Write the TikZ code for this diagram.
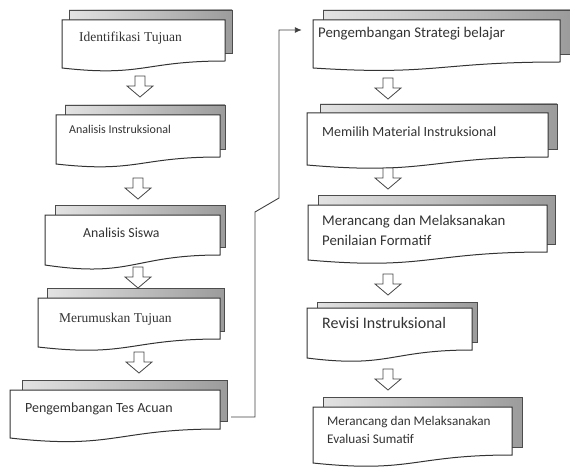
\documentclass[tikz,border=0pt]{standalone}
\usepackage{fontspec}
\setmainfont{Liberation Serif}
\newfontfamily\calib{Carlito}
\usetikzlibrary{arrows.meta,calc}
\tikzset{
  shadowbox/.style={left color=gray!22, right color=gray!78, draw=gray!60!black, line width=0.6pt},
  frontbox/.style={draw=black!80, fill=white, line width=1pt},
  hollow/.style={draw=gray!55!black, fill=white, line width=0.8pt},
  conn/.style={draw=black!75, line width=0.9pt},
  lbl/.style={anchor=base west, inner sep=0pt, text=black!80},
}
% #1 name, #2 x1, #3 yt, #4 x2, #5 y right bottom, #6 y left bottom, #7 bx1, #8 byt, #9 bx2 ; shadow bottom = #5 - 8
\newcommand\docbox[9]{%
  \shade[shadowbox] (#7,#8) rectangle (#9,{#5-8});
  \path[frontbox] (#2,#3) -- (#4,#3) -- (#4,#5)
     .. controls ({(#2+#4)/2},#5) and ({(#2+#4)/2},{#6+1.31*(#6-#5)}) .. (#2,#6) -- cycle;
  \node[inner sep=0pt, minimum width={(#4-#2)*1pt}, minimum height={(#6-#3)*1pt}] (#1) at ({(#2+#4)/2},{(#3+#6)/2}) {};
}
% #1 name, #2 centre x, #3 top y
\newcommand\hollowarrow[3]{%
  \path[hollow] (#2-5,#3) -- (#2+5,#3) -- (#2+5,#3+10) -- (#2+13,#3+10) -- (#2,#3+21)
     -- (#2-13,#3+10) -- (#2-5,#3+10) -- cycle;
  \coordinate (#1) at (#2,#3);
}
\begin{document}
\begin{tikzpicture}[x=1pt,y=-1pt]
\useasboundingbox (0,0) rectangle (570,468);
% left column
\docbox{b1}{62}{20}{225}{61}{68}{69}{10}{232}
\node[lbl, font=\fontsize{13.5}{16}\selectfont] (t1) at (79,42) {Identifikasi Tujuan};
\docbox{b2}{56}{115}{220}{157}{164}{65}{105}{225}
\node[lbl, font=\calib\fontsize{12}{14}\selectfont] (t2) at (69,133) {Analisis Instruksional};
\docbox{b3}{45}{215}{220}{255}{265}{55}{205}{225}
\node[lbl, font=\calib\fontsize{13.8}{17}\selectfont] (t3) at (83,237) {Analisis Siswa};
\docbox{b4}{38}{298}{220}{339}{347}{47}{288}{224}
\node[lbl, font=\fontsize{13.5}{16}\selectfont] (t4) at (59,322) {Merumuskan Tujuan};
\docbox{b5}{10}{390}{220}{429}{438}{22}{380}{227}
\node[lbl, font=\calib\fontsize{14}{17}\selectfont] (t5) at (25,412) {Pengembangan Tes Acuan};
% right column
\docbox{b6}{313}{20}{560}{62}{68}{323}{10}{570}
\node[lbl, font=\calib\fontsize{14.8}{17}\selectfont] (t6) at (318,38) {Pengembangan Strategi belajar};
\docbox{b7}{307}{113}{548}{157}{165}{320}{104}{557}
\node[lbl, font=\calib\fontsize{14}{17}\selectfont] (t7) at (322,137) {Memilih Material Instruksional};
\docbox{b8}{308}{205}{547}{252}{260}{318}{195}{555}
\node[lbl, font=\calib\fontsize{14.8}{17}\selectfont] (t8a) at (322,225) {Merancang dan Melaksanakan};
\node[lbl, font=\calib\fontsize{14.8}{17}\selectfont] (t8b) at (322,245) {Penilaian Formatif};
\docbox{b9}{307}{308}{472}{350}{358}{317}{302}{477}
\node[lbl, font=\calib\fontsize{16}{19}\selectfont] (t9) at (322,328) {Revisi Instruksional};
\docbox{b10}{313}{407}{512}{455}{463}{323}{397}{522}
\node[lbl, font=\calib\fontsize{13.2}{16}\selectfont] (t10a) at (327,425) {Merancang dan Melaksanakan};
\node[lbl, font=\calib\fontsize{13.2}{16}\selectfont] (t10b) at (327,443) {Evaluasi Sumatif};
% hollow arrows
\hollowarrow{a1}{140}{76}
\hollowarrow{a2}{138}{178}
\hollowarrow{a3}{138}{267}
\hollowarrow{a4}{139}{352}
\hollowarrow{a6}{388}{78}
\hollowarrow{a7}{388}{168}
\hollowarrow{a8}{388}{274}
\hollowarrow{a9}{388}{369}
% connector
\coordinate (k1) at (255,417);
\coordinate (k2) at (255,212);
\coordinate (k3) at (279,198);
\coordinate (k4) at (279,30);
\draw[conn, -{Latex[length=7pt,width=6pt]}, shorten <=11pt, shorten >=11pt]
  (b5.east |- k1) -- (k1) -- (k2) -- (k3) -- (k4) -- (b6.west |- k4);
\end{tikzpicture}
\end{document}
